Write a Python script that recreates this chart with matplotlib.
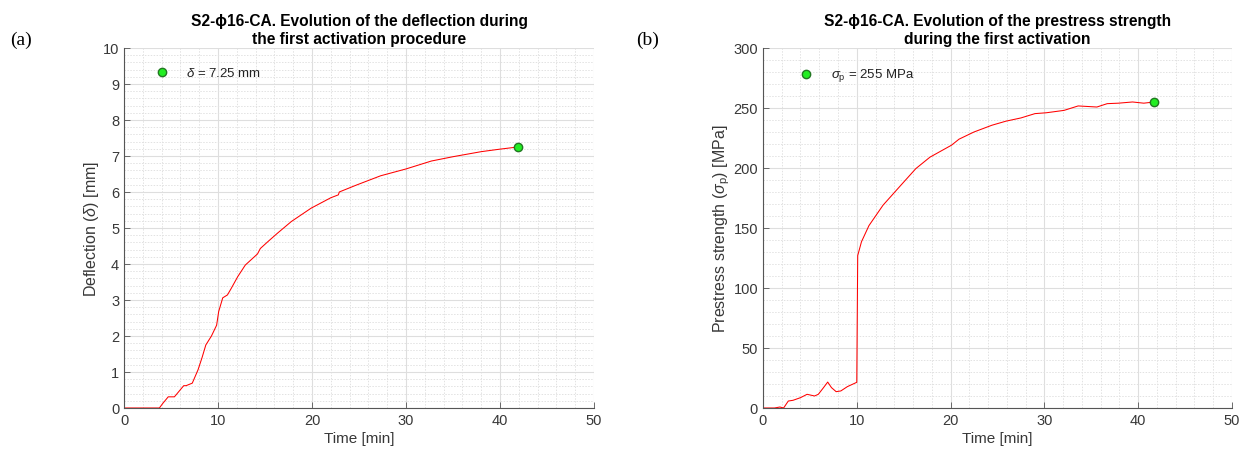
import matplotlib
matplotlib.use("Agg")
import matplotlib.pyplot as plt
from matplotlib.ticker import MultipleLocator

plt.rcParams['font.family'] = ['Liberation Sans', 'DejaVu Sans']
plt.rcParams['mathtext.fontset'] = 'custom'
plt.rcParams['mathtext.rm'] = 'Liberation Sans'
plt.rcParams['mathtext.it'] = 'Liberation Sans:italic'

# ---- data (a) deflection ----
time_a = [0, 3.76, 4.1, 4.7, 5.36, 6.35, 6.6, 7.26, 7.87, 8.3, 8.7, 9.3, 9.85, 10.07,
          10.5, 11.0, 11.4, 12.1, 12.9, 14.2, 14.5, 15.3, 16.3, 17.8, 19.9, 22.0,
          22.8, 22.9, 24.7, 27.3, 30.0, 32.7, 35.0, 38.0, 40.0, 41.9]
defl_a = [0, 0, 0.12, 0.31, 0.31, 0.62, 0.62, 0.69, 1.06, 1.4, 1.75, 2.0, 2.3, 2.68,
          3.06, 3.14, 3.32, 3.65, 3.97, 4.28, 4.43, 4.62, 4.85, 5.18, 5.55, 5.84,
          5.92, 6.0, 6.19, 6.45, 6.64, 6.86, 6.98, 7.12, 7.19, 7.25]
end_a = (41.9, 7.25)
label_a = r'$\delta$ = 7.25 mm'

# ---- data (b) prestress ----
time_b = [0, 1.23, 1.8, 2.2, 2.7, 3.2, 4.0, 4.7, 5.5, 5.9, 6.4, 6.9, 7.3, 7.8, 8.3, 9.0,
          10.0, 10.1, 10.5, 11.3, 12.8, 14.7, 16.3, 17.8, 20.1, 20.9, 22.5, 24.4,
          25.9, 27.5, 29.0, 30.2, 32.1, 33.6, 35.6, 36.7, 37.9, 39.4, 40.6, 41.7]
pres_b = [0, 0, 0.8, 0, 5.8, 6.4, 8.6, 11.4, 10.0, 11.4, 16.4, 21.6, 17.0, 13.6, 14.2, 17.8,
          21.4, 127, 138.5, 152, 169, 185.6, 199.5, 209, 219, 224, 230, 235.6,
          239, 241.7, 245.3, 246, 248, 251.7, 250.8, 253.6, 254, 255, 254, 255]
end_b = (41.7, 255)
label_b = r'$\sigma_{\rm p}$ = 255 MPa'

fig = plt.figure(figsize=(12.58, 4.56), dpi=100)
ax1 = fig.add_axes([0.0986, 0.1031, 0.3736, 0.7895])
ax2 = fig.add_axes([0.6065, 0.1031, 0.3728, 0.7895])

def style(ax, ymax, ymaj, ymin):
    ax.set_xlim(0, 50)
    ax.set_ylim(0, ymax)
    ax.xaxis.set_major_locator(MultipleLocator(10))
    ax.xaxis.set_minor_locator(MultipleLocator(2))
    ax.yaxis.set_major_locator(MultipleLocator(ymaj))
    ax.yaxis.set_minor_locator(MultipleLocator(ymin))
    ax.grid(True, which='major', color='#dedede', linewidth=0.8, linestyle='-')
    ax.grid(True, which='minor', color='#e2e2e2', linewidth=0.7, linestyle=(0, (1.5, 1.5)))
    ax.set_axisbelow(True)
    for s in ['top', 'right']:
        ax.spines[s].set_visible(False)
    for s in ['left', 'bottom']:
        ax.spines[s].set_color('#555555')
        ax.spines[s].set_linewidth(0.8)
    ax.tick_params(which='major', direction='in', length=4, width=0.6,
                   colors='#555555', labelcolor='#383838', labelsize=10.5)
    ax.tick_params(which='minor', length=0)
    ax.set_xlabel('Time [min]', fontsize=11, color='#383838', labelpad=3)

style(ax1, 10, 1, 0.2)
style(ax2, 300, 50, 10)

ax1.plot(time_a, defl_a, color='red', linewidth=0.75)
ax1.plot(*end_a, 'o', color='#22ee22', markeredgecolor='#227722', markersize=6)
ax1.plot(4.0, 9.33, 'o', color='#22ee22', markeredgecolor='#227722', markersize=6)
ax1.text(6.6, 9.33, label_a, fontsize=9.5, va='center', color='#222222')
ax1.set_ylabel(r'Deflection ($\delta$) [mm]', fontsize=11.5, color='#383838', labelpad=1)
ax1.set_title('S2-ϕ16-CA. Evolution of the deflection during\nthe first activation procedure',
              fontsize=11.2, fontweight='bold', pad=3.5, linespacing=1.3)

ax2.plot(time_b, pres_b, color='red', linewidth=0.75)
ax2.plot(*end_b, 'o', color='#22ee22', markeredgecolor='#227722', markersize=6)
ax2.plot(4.6, 278, 'o', color='#22ee22', markeredgecolor='#227722', markersize=6)
ax2.text(7.3, 278, label_b, fontsize=9.5, va='center', color='#222222')
ax2.set_ylabel(r'Prestress strength ($\sigma_{\rm p}$) [MPa]', fontsize=11.5, color='#383838', labelpad=1)
ax2.set_title('S2-ϕ16-CA. Evolution of the prestress strength\nduring the first activation',
              fontsize=11.2, fontweight='bold', pad=3.5, linespacing=1.3)

fig.text(0.008, 0.912, '(a)', fontsize=14, family='Liberation Serif', va='center')
fig.text(0.506, 0.912, '(b)', fontsize=14, family='Liberation Serif', va='center')

fig.savefig('out.png', dpi=100)
